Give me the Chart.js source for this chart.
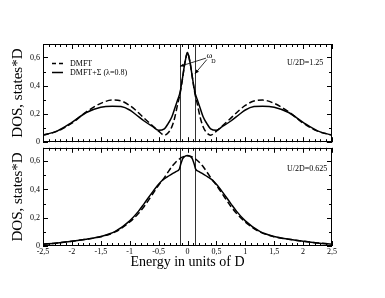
<!DOCTYPE html>
<html><head><meta charset="utf-8">
<script src="https://cdn.jsdelivr.net/npm/chart.js@4/dist/chart.umd.min.js"></script>
<style>
html,body{margin:0;padding:0;background:#fff;width:385px;height:298px;overflow:hidden}
#top{position:absolute;left:0;top:0}
#bot{position:absolute;left:0;top:140px}
</style></head><body>
<canvas id="top" width="385" height="150"></canvas>
<canvas id="bot" width="385" height="158"></canvas>
<script>
// ---- data ----
const xTicks = [-2.5,-2,-1.5,-1,-0.5,0,0.5,1,1.5,2,2.5];
const yTicks = [0,0.2,0.4,0.6];
const omegaD = 0.13;
const yMax = 0.695;

const energyTop = [-2.5,-2.25,-2.0,-1.75,-1.5,-1.3,-1.15,-1.0,-0.9,-0.75,-0.6,-0.5,-0.4,-0.33,-0.27,-0.22,-0.17,-0.13,-0.09,-0.05,-0.02,0,
                   0.02,0.05,0.09,0.13,0.17,0.22,0.27,0.33,0.4,0.5,0.6,0.75,0.9,1.0,1.15,1.3,1.5,1.75,2.0,2.25,2.5];
const dmftTop  = [0.05,0.078,0.135,0.215,0.275,0.298,0.292,0.26,0.228,0.17,0.115,0.078,0.05,0.068,0.11,0.175,0.27,0.34,0.44,0.55,0.612,0.635,
                  0.612,0.55,0.44,0.34,0.27,0.175,0.11,0.068,0.05,0.078,0.115,0.17,0.228,0.26,0.292,0.298,0.275,0.215,0.135,0.078,0.05];
const sigmaTop = [0.05,0.08,0.14,0.21,0.248,0.255,0.252,0.228,0.198,0.15,0.11,0.085,0.095,0.135,0.18,0.24,0.3,0.35,0.445,0.55,0.612,0.635,
                  0.612,0.55,0.445,0.35,0.3,0.24,0.18,0.135,0.095,0.085,0.11,0.15,0.198,0.228,0.252,0.255,0.248,0.21,0.14,0.08,0.05];

const energyBot = [-2.5,-2.25,-2.0,-1.75,-1.5,-1.25,-1.0,-0.85,-0.75,-0.6,-0.5,-0.43,-0.35,-0.26,-0.2,-0.14,-0.12,-0.1,-0.08,-0.04,0,
                   0.04,0.08,0.1,0.12,0.14,0.2,0.26,0.35,0.43,0.5,0.6,0.75,0.85,1.0,1.25,1.5,1.75,2.0,2.25,2.5];
const dmftBot  = [0.013,0.022,0.034,0.048,0.066,0.1,0.17,0.23,0.28,0.37,0.43,0.467,0.515,0.568,0.595,0.616,0.622,0.627,0.631,0.636,0.638,
                  0.636,0.631,0.627,0.622,0.616,0.595,0.568,0.515,0.467,0.43,0.37,0.28,0.23,0.17,0.1,0.066,0.048,0.034,0.022,0.013];
const sigmaBot = [0.013,0.022,0.034,0.048,0.067,0.103,0.178,0.245,0.3,0.385,0.437,0.467,0.49,0.512,0.527,0.545,0.575,0.6,0.62,0.636,0.64,
                  0.636,0.62,0.6,0.575,0.545,0.527,0.512,0.49,0.467,0.437,0.385,0.3,0.245,0.178,0.103,0.067,0.048,0.034,0.022,0.013];

const legendLabels = ['DMFT', 'DMFT+\u03A3 (\u03BB=0.8)'];
const panelLabels = ['U/2D=1.25', 'U/2D=0.625'];
const yTitle = 'DOS, states*D';
const xTitle = 'Energy in units of D';

// ---- helpers ----
const SERIF = "'Liberation Serif','Times New Roman',serif";
Chart.defaults.font.family = SERIF;
Chart.defaults.color = '#000';
const fmt = v => { const r = Math.round(v*10)/10; return r === 0 ? '0' : String(r).replace('.', ','); };
const pts = (xs, ys) => xs.map((x,i) => ({x, y: ys[i]}));

function datasets(E, dmft, sigma){
  return [
    {label: legendLabels[0], data: pts(E, dmft), borderColor:'#000', borderWidth:1.5, borderDash:[6,3], pointRadius:0, cubicInterpolationMode:'monotone', fill:false},
    {label: legendLabels[1], data: pts(E, sigma), borderColor:'#000', borderWidth:1.5, pointRadius:0, cubicInterpolationMode:'monotone', fill:false}
  ];
}

function yScale(){
  return {
    type:'linear', min:0, max:yMax,
    afterBuildTicks: s => { s.ticks = yTicks.map(v => ({value:v})); },
    afterFit: s => { s.width = 43; },
    grid:{display:false, drawTicks:false}, border:{display:false},
    ticks:{padding:3, font:{size:8}, color:'#000', callback: v => fmt(v)},
    title:{display:true, text:yTitle, font:{size:15, family:SERIF}, color:'#000', padding:{top:9, bottom:0}}
  };
}

function xScale(show){
  const s = {
    type:'linear', min:-2.5, max:2.5, display: show,
    afterBuildTicks: s => { s.ticks = xTicks.map(v => ({value:v})); },
    grid:{display:false, drawTicks:false}, border:{display:false},
    ticks:{padding:1, font:{size:8}, color:'#000', maxRotation:0, autoSkip:false, callback: v => fmt(v)},
    title:{display:show, text:xTitle, font:{size:14, family:SERIF}, color:'#000', padding:{top:0, bottom:27}}
  };
  if (show) s.afterFit = sc => { sc.height = 52; };
  return s;
}

function drawOmegaLines(chart){
  const ctx = chart.ctx, a = chart.chartArea, xs = chart.scales.x;
  ctx.save();
  ctx.strokeStyle = '#333'; ctx.lineWidth = 1;
  ctx.beginPath();
  [-omegaD, omegaD].forEach(w => {
    const px = Math.round(xs.getPixelForValue(w)) + 0.5;
    ctx.moveTo(px, a.top); ctx.lineTo(px, a.bottom);
  });
  ctx.stroke();
  ctx.restore();
}

function drawFrame(chart){
  const ctx = chart.ctx, a = chart.chartArea, xs = chart.scales.x, ys = chart.scales.y;
  ctx.save();
  ctx.strokeStyle = '#000'; ctx.lineWidth = 1;
  ctx.beginPath();
  for (let i = -25; i <= 25; i++){
    const len = (i % 5 === 0) ? 5 : 3;
    const px = Math.round(xs.getPixelForValue(i/10)) + 0.5;
    ctx.moveTo(px, a.top); ctx.lineTo(px, a.top + len);
    ctx.moveTo(px, a.bottom); ctx.lineTo(px, a.bottom - len);
  }
  for (let i = 0; i <= 6; i++){
    const len = (i % 2 === 0) ? 5 : 3;
    const py = Math.round(ys.getPixelForValue(i/10)) + 0.5;
    ctx.moveTo(a.left, py); ctx.lineTo(a.left + len, py);
    ctx.moveTo(a.right, py); ctx.lineTo(a.right - len, py);
  }
  ctx.stroke();
  ctx.strokeRect(Math.round(a.left)+0.5, Math.round(a.top)+0.5, Math.round(a.right-a.left)-1, Math.round(a.bottom-a.top)-1);
  ctx.restore();
}

function arrow(ctx, x1, y1, x2, y2){
  ctx.beginPath(); ctx.moveTo(x1,y1); ctx.lineTo(x2,y2); ctx.stroke();
  const ang = Math.atan2(y2-y1, x2-x1), L = 4, W = 1.8;
  ctx.beginPath();
  ctx.moveTo(x2, y2);
  ctx.lineTo(x2 - L*Math.cos(ang) + W*Math.sin(ang), y2 - L*Math.sin(ang) - W*Math.cos(ang));
  ctx.lineTo(x2 - L*Math.cos(ang) - W*Math.sin(ang), y2 - L*Math.sin(ang) + W*Math.cos(ang));
  ctx.closePath(); ctx.fill();
}

const topDeco = {
  id:'topDeco',
  beforeDatasetsDraw(chart){ drawOmegaLines(chart); },
  afterDraw(chart){
    drawFrame(chart);
    const ctx = chart.ctx, a = chart.chartArea, xs = chart.scales.x, ys = chart.scales.y;
    ctx.save();
    ctx.fillStyle = '#000'; ctx.strokeStyle = '#000';
    // legend
    ctx.lineWidth = 1.5;
    ctx.beginPath(); ctx.setLineDash([4,3]); ctx.moveTo(a.left+9, a.top+19.5); ctx.lineTo(a.left+20, a.top+19.5); ctx.stroke();
    ctx.beginPath(); ctx.setLineDash([]); ctx.moveTo(a.left+9, a.top+28.5); ctx.lineTo(a.left+20, a.top+28.5); ctx.stroke();
    ctx.font = '8px ' + SERIF; ctx.textBaseline = 'middle'; ctx.textAlign = 'left';
    ctx.fillText(legendLabels[0], a.left+27, a.top+19.5);
    ctx.fillText(legendLabels[1], a.left+27, a.top+28.5);
    // panel label
    ctx.fillText(panelLabels[0], a.left+244, a.top+19);
    // omega_D annotation
    ctx.font = '9px ' + SERIF;
    ctx.fillText('\u03C9', xs.getPixelForValue(0.33), ys.getPixelForValue(0.61));
    ctx.font = '6px ' + SERIF;
    ctx.fillText('D', xs.getPixelForValue(0.41), ys.getPixelForValue(0.575));
    ctx.lineWidth = 0.8;
    arrow(ctx, xs.getPixelForValue(0.32), ys.getPixelForValue(0.595), xs.getPixelForValue(-omegaD), ys.getPixelForValue(0.537));
    arrow(ctx, xs.getPixelForValue(0.335), ys.getPixelForValue(0.585), xs.getPixelForValue(omegaD), ys.getPixelForValue(0.485));
    ctx.restore();
  }
};

const botDeco = {
  id:'botDeco',
  beforeDatasetsDraw(chart){ drawOmegaLines(chart); },
  afterDraw(chart){
    drawFrame(chart);
    const ctx = chart.ctx, a = chart.chartArea;
    ctx.save();
    ctx.fillStyle = '#000';
    ctx.font = '8px ' + SERIF; ctx.textBaseline = 'middle'; ctx.textAlign = 'left';
    ctx.fillText(panelLabels[1], a.left+244, a.top+21);
    ctx.restore();
  }
};

const common = {
  responsive:false, animation:false, devicePixelRatio:1,
  plugins:{legend:{display:false}, tooltip:{enabled:false}},
  elements:{line:{tension:0}}
};

new Chart(document.getElementById('top'), {
  type:'line',
  data:{datasets: datasets(energyTop, dmftTop, sigmaTop)},
  options: Object.assign({}, common, {
    layout:{padding:{top:44, right:53, bottom:6, left:0}},
    scales:{x: xScale(false), y: yScale()}
  }),
  plugins:[topDeco]
});

new Chart(document.getElementById('bot'), {
  type:'line',
  data:{datasets: datasets(energyBot, dmftBot, sigmaBot)},
  options: Object.assign({}, common, {
    layout:{padding:{top:5, right:53, bottom:0, left:0}},
    scales:{x: xScale(true), y: yScale()}
  }),
  plugins:[botDeco]
});
</script></body></html>
